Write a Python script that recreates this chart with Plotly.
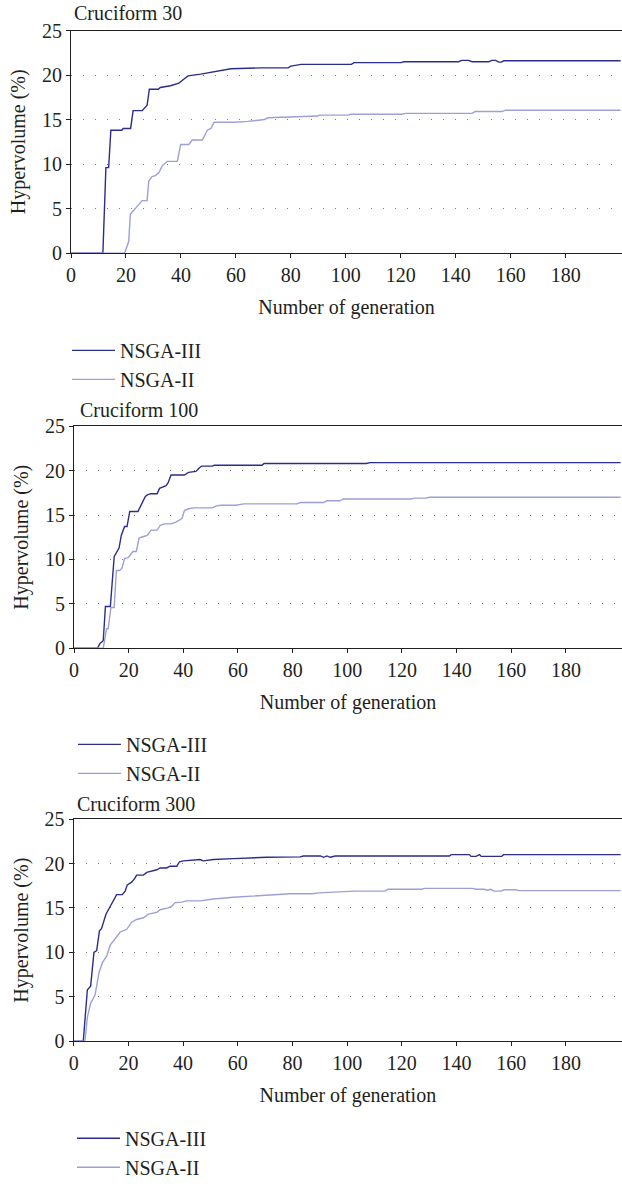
import plotly.graph_objects as go

# ---------------- data ----------------
titles = ["Cruciform 30", "Cruciform 100", "Cruciform 300"]
series_names = ["NSGA-III", "NSGA-II"]
x_ticks = [0, 20, 40, 60, 80, 100, 120, 140, 160, 180]
y_ticks = [0, 5, 10, 15, 20, 25]

p1_nsga3_x = [0, 11.6, 12.7, 13.7, 14.5, 18.5, 19.0, 21.7, 22.6, 25.9, 27.7, 28.5, 31.8, 32.5, 36.2, 39.3, 40.9, 42.6, 47.2, 50.9,
              57.0, 58.2, 69.0, 79.0, 80.0, 82.6, 83.8, 102.0, 103.0, 120.3, 120.9, 141.0, 142.2, 144.7, 145.9, 152.0, 153.2, 154.5, 155.7, 156.6,
              157.5, 200]
p1_nsga3_y = [0, 0, 9.6, 9.6, 13.8, 13.8, 14.0, 14.0, 16.0, 16.0, 16.6, 18.4, 18.4, 18.6, 18.8, 19.1, 19.5, 19.9, 20.1, 20.3,
              20.6, 20.7, 20.8, 20.8, 21.0, 21.1, 21.2, 21.2, 21.4, 21.4, 21.5, 21.5, 21.65, 21.65, 21.5, 21.5, 21.65, 21.65, 21.45, 21.45,
              21.6, 21.6]
p1_nsga2_x = [0, 19.5, 21.0, 21.6, 23.4, 24.6, 25.9, 27.7, 28.3, 29.5, 30.7, 31.9, 33.2, 35.0, 38.7, 39.9, 42.9, 44.1, 47.8, 49.6,
              50.9, 52.1, 59.4, 64.3, 70.4, 71.6, 79.0, 83.8, 89.8, 90.4, 100.8, 101.8, 120.3, 121.8, 145.9, 147.1, 156.9, 158.1, 200]
p1_nsga2_y = [0, 0, 1.3, 4.4, 5.0, 5.4, 5.9, 5.9, 8.1, 8.6, 8.7, 9.0, 9.8, 10.3, 10.3, 12.2, 12.2, 12.7, 12.7, 13.8,
              14.0, 14.7, 14.7, 14.8, 15.0, 15.2, 15.3, 15.4, 15.4, 15.5, 15.5, 15.6, 15.6, 15.7, 15.7, 15.9, 15.9, 16.05, 16.05]

p2_nsga3_x = [0, 8.6, 9.5, 10.7, 11.5, 13.3, 14.7, 15.5, 16.5, 17.3, 18.5, 19.4, 20.4, 23.4, 24.6, 26.1, 27.0, 28.2, 30.4, 31.3,
              33.7, 34.4, 35.5, 40.4, 41.9, 44.6, 45.8, 46.7, 50.7, 51.3, 68.8, 69.5, 107.0, 108.3, 200]
p2_nsga3_y = [0, 0, 0.55, 0.85, 4.7, 4.7, 10.3, 10.7, 11.3, 12.7, 13.7, 13.7, 15.4, 15.4, 16.2, 17.1, 17.3, 17.4, 17.4, 18.0,
              18.3, 18.6, 19.5, 19.5, 19.8, 19.9, 20.3, 20.5, 20.5, 20.6, 20.6, 20.8, 20.8, 20.9, 20.9]
p2_nsga2_x = [0, 10.7, 11.9, 12.5, 13.5, 14.7, 15.5, 16.7, 17.6, 18.5, 19.8, 20.6, 21.6, 22.8, 23.8, 25.2, 26.8, 28.2, 30.4, 31.6,
              33.1, 35.5, 37.3, 39.5, 40.4, 41.9, 44.0, 50.7, 51.9, 53.7, 59.2, 62.2, 81.6, 82.8, 91.3, 92.5, 97.3, 98.5, 123.3, 124.5,
              128.8, 130.0, 200]
p2_nsga2_y = [0, 0, 2.2, 2.2, 4.6, 4.6, 8.75, 8.75, 9.05, 10.1, 10.2, 10.5, 10.9, 10.9, 12.4, 12.55, 12.7, 13.3, 13.3, 13.85,
              14.0, 14.0, 14.2, 14.6, 15.5, 15.7, 15.8, 15.8, 16.0, 16.1, 16.1, 16.25, 16.25, 16.4, 16.4, 16.6, 16.6, 16.8, 16.8, 16.9,
              16.9, 17.0, 17.0]

p3_nsga3_x = [0, 3.5, 5.0, 6.2, 7.4, 8.4, 9.4, 10.2, 11.8, 13.3, 14.5, 15.7, 17.8, 18.8, 19.6, 21.2, 22.4, 23.0, 25.5, 26.7,
              30.4, 31.6, 34.0, 35.2, 37.7, 38.7, 40.1, 45.0, 46.2, 47.4, 51.1, 58.4, 70.6, 82.8, 84.0, 90.2, 91.4, 92.6, 93.8, 95.6,
              137.4, 138.0, 144.7, 145.3, 147.1, 148.4, 149.0, 156.5, 157.2, 200]
p3_nsga3_y = [0, 0, 5.8, 6.2, 10.0, 10.2, 12.4, 12.7, 14.3, 15.2, 15.8, 16.5, 16.5, 16.9, 17.6, 17.9, 18.35, 18.7, 18.7, 19.0,
              19.3, 19.5, 19.5, 19.7, 19.7, 20.2, 20.3, 20.4, 20.45, 20.3, 20.45, 20.55, 20.7, 20.75, 20.85, 20.85, 20.7, 20.85, 20.7, 20.85,
              20.85, 21.0, 21.0, 20.8, 20.8, 21.0, 20.8, 20.8, 21.0, 21.0]
p3_nsga2_x = [0, 4.1, 5.0, 6.2, 7.8, 9.3, 10.6, 12.1, 13.3, 15.1, 17.0, 19.4, 21.2, 23.0, 25.5, 27.3, 30.4, 31.6, 34.6, 35.9,
              37.1, 39.5, 41.3, 46.2, 51.1, 58.4, 64.5, 74.3, 79.1, 87.1, 89.6, 93.2, 98.1, 102.9, 113.8, 115.0, 127.1, 128.3, 145.8, 147.1,
              150.1, 151.3, 152.5, 153.7, 156.2, 157.4, 161.6, 162.8, 200]
p3_nsga2_y = [0, 0, 2.7, 4.3, 5.2, 7.8, 8.9, 9.6, 10.8, 11.6, 12.3, 12.6, 13.4, 13.7, 13.9, 14.3, 14.5, 14.8, 15.0, 15.2,
              15.6, 15.65, 15.8, 15.8, 16.0, 16.2, 16.3, 16.5, 16.6, 16.6, 16.7, 16.75, 16.85, 16.9, 16.9, 17.1, 17.1, 17.2, 17.2, 17.1,
              17.1, 17.0, 17.1, 16.9, 16.9, 17.05, 17.05, 16.95, 16.95]

panels = [
    (p1_nsga3_x, p1_nsga3_y, p1_nsga2_x, p1_nsga2_y),
    (p2_nsga3_x, p2_nsga3_y, p2_nsga2_x, p2_nsga2_y),
    (p3_nsga3_x, p3_nsga3_y, p3_nsga2_x, p3_nsga2_y),
]

# ---------------- styling / layout ----------------
W, H = 622, 1187
FONT = "Liberation Serif, Times New Roman, serif"
FS = 20
TXT = "#231f20"
COLORS = ["#2b2d8c", "#9c9fd8"]

# pixel geometry of each panel: (left, top, bottom) ; right edge = W
geom = [(71, 31, 257), (74, 432.7, 658.3), (73.7, 831.7, 1057.3)]
title_pos = [(72, 13), (78, 416), (75, 816)]
legend_pos = [(67, 336), (73, 736), (72, 1136)]

fig = go.Figure()
layout = dict(
    width=W, height=H,
    margin=dict(l=0, r=0, t=0, b=0),
    paper_bgcolor="white", plot_bgcolor="white",
    font=dict(family=FONT, size=FS, color=TXT),
    annotations=[],
)

for i, (x3, y3, x2, y2) in enumerate(panels):
    k = "" if i == 0 else str(i + 1)
    leg = "legend" if i == 0 else f"legend{i + 1}"
    for name, xs, ys, col in [(series_names[0], x3, y3, COLORS[0]), (series_names[1], x2, y2, COLORS[1])]:
        fig.add_trace(go.Scatter(
            x=xs, y=ys, mode="lines", name=name,
            line=dict(color=col, width=1.4),
            xaxis="x" + k, yaxis="y" + k, legend=leg,
        ))
    left, top, bottom = geom[i]
    layout["xaxis" + k] = dict(
        domain=[left / W, 1.0], range=[0, 200.5], anchor="y" + k,
        tickmode="array", tickvals=x_ticks,
        ticks="outside", ticklen=4, tickcolor="#231f20",
        showline=True, linecolor="#231f20", linewidth=1.2, mirror=True,
        showgrid=False, zeroline=False,
        tickfont=dict(family=FONT, size=FS, color=TXT),
        title=dict(text="Number of generation", standoff=14,
                   font=dict(family=FONT, size=FS, color=TXT)),
        automargin=False,
    )
    layout["yaxis" + k] = dict(
        domain=[1 - bottom / H, 1 - top / H], range=[0, 25], anchor="x" + k,
        tickmode="array", tickvals=y_ticks,
        ticks="outside", ticklen=4, tickcolor="#231f20",
        showline=True, linecolor="#231f20", linewidth=1.2, mirror=False,
        showgrid=True, gridcolor="#7a7a7a", gridwidth=1, griddash="1px,11px",
        zeroline=False,
        tickfont=dict(family=FONT, size=FS, color=TXT),
        title=dict(text="Hypervolume (%)", standoff=10,
                   font=dict(family=FONT, size=FS, color=TXT)),
        automargin=False,
    )
    tx, ty = title_pos[i]
    layout["annotations"].append(dict(
        text=titles[i], x=tx / W, y=1 - ty / H, xref="paper", yref="paper",
        xanchor="left", yanchor="middle", showarrow=False,
        font=dict(family=FONT, size=FS, color=TXT),
    ))
    lx, ly = legend_pos[i]
    layout[leg] = dict(
        x=lx / W, y=1 - ly / H, xanchor="left", yanchor="top",
        bgcolor="rgba(0,0,0,0)", borderwidth=0,
        font=dict(family=FONT, size=FS, color=TXT),
        tracegroupgap=0, itemwidth=43,
    )

fig.update_layout(**layout)
fig.write_html("out.html")
